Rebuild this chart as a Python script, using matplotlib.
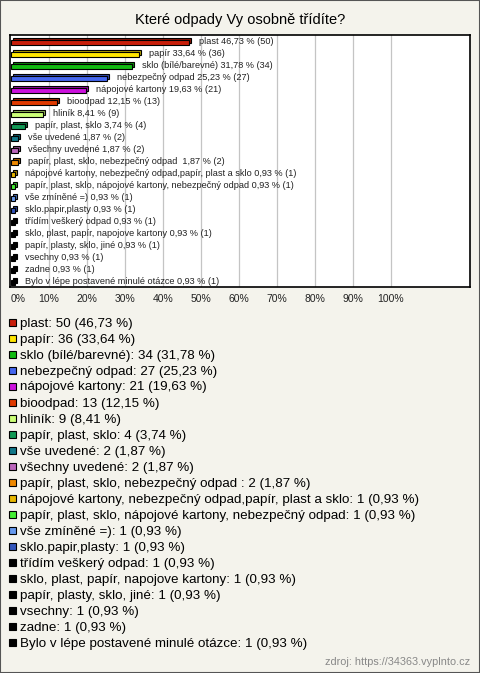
import matplotlib
matplotlib.use("Agg")
import matplotlib.pyplot as plt
import matplotlib.transforms as mtransforms
from matplotlib.patches import Rectangle
import matplotlib.colors as mcolors

plt.rcParams['font.family'] = ['Liberation Sans', 'DejaVu Sans']

title = "Které odpady Vy osobně třídíte?"
categories = [
    "plast", "papír", "sklo (bílé/barevné)", "nebezpečný odpad", "nápojové kartony",
    "bioodpad", "hliník", "papír, plast, sklo", "vše uvedené", "všechny uvedené",
    "papír, plast, sklo, nebezpečný odpad ",
    "nápojové kartony, nebezpečný odpad,papír, plast a sklo",
    "papír, plast, sklo, nápojové kartony, nebezpečný odpad",
    "vše zmíněné =)", "sklo.papir,plasty", "třídím veškerý odpad",
    "sklo, plast, papír, napojove kartony", "papír, plasty, sklo, jiné",
    "vsechny", "zadne", "Bylo v lépe postavené minulé otázce",
]
counts = [50, 36, 34, 27, 21, 13, 9, 4, 2, 2, 2, 1, 1, 1, 1, 1, 1, 1, 1, 1, 1]
percents = [46.73, 33.64, 31.78, 25.23, 19.63, 12.15, 8.41, 3.74, 1.87, 1.87, 1.87,
            0.93, 0.93, 0.93, 0.93, 0.93, 0.93, 0.93, 0.93, 0.93, 0.93]
colors = ["#C81E0A", "#FFE600", "#11BB11", "#4466EE", "#CC11DD", "#E03A00", "#CCFF77",
          "#119955", "#117788", "#BB66BB", "#EE8800", "#E8B800", "#44EE33", "#6699EE",
          "#3355BB", "#000000", "#000000", "#000000", "#000000", "#000000", "#000000"]
xticks = [0, 10, 20, 30, 40, 50, 60, 70, 80, 90, 100]
xticklabels = [f"{t}%" for t in xticks]
source = "zdroj: https://34363.vyplnto.cz"

W, H = 480, 673
BG = "#F4F3EC"
fig = plt.figure(figsize=(W / 100, H / 100), dpi=100, facecolor=BG)

def fx(px):
    return px / W

def fy(py):
    return 1 - py / H

ax = fig.add_axes([fx(10), fy(287), fx(470) - fx(10), fy(35) - fy(287)])
ax.set_facecolor("white")
px_per_pct = 3.8
ax.set_xlim(-1 / px_per_pct, (470 - 11) / px_per_pct)
ax.set_ylim(len(categories) - 0.5, -0.5)
for t in xticks[1:]:
    ax.axvline(t, color="#C4C4C4", lw=0.9, zorder=0)

def darken(c, f=0.7):
    r, g, b = mcolors.to_rgb(c)
    return (r * f, g * f, b * f)

ys = list(range(len(categories)))
ys_front = [y + 0.13 for y in ys]
back_tr = ax.transData + mtransforms.ScaledTranslation(2 / 100, 2 / 100, fig.dpi_scale_trans)
ax.barh(ys_front, percents, height=0.42, color=[darken(c) for c in colors],
        edgecolor="black", linewidth=0.8, transform=back_tr, zorder=2)
ax.barh(ys_front, percents, height=0.42, color=colors, edgecolor="black",
        linewidth=0.8, zorder=3)

for y, cat, p, n in zip(ys, categories, percents, counts):
    ps = f"{p:.2f}".replace(".", ",")
    ax.text(p + 10 / px_per_pct, y, f"{cat} {ps} % ({n})", va="center", ha="left",
            fontsize=6.6, color="#222222", zorder=4)

ax.set_yticks([])
ax.set_xticks(xticks)
ax.set_xticklabels(xticklabels, fontsize=7.5, color="#222222")
ax.tick_params(axis="x", length=0, pad=5)
ax.get_xticklabels()[0].set_ha("left")
for s in ax.spines.values():
    s.set_color("black")
    s.set_linewidth(1.2)

fig.text(0.5, fy(20), title, ha="center", va="center", fontsize=10.5, color="black")

# legend
for i, (cat, p, n, c) in enumerate(zip(categories, percents, counts, colors)):
    yc = 322 + 16 * i
    fig.patches.append(Rectangle((fx(9), fy(yc + 3.5)), fx(7), 7 / H, transform=fig.transFigure,
                                 facecolor=c, edgecolor="black", linewidth=0.8))
    ps = f"{p:.2f}".replace(".", ",")
    label = f"{cat}: {n} ({ps} %)"
    fig.text(fx(20), fy(yc + 1.5), label, ha="left", va="center", fontsize=9.6, color="black")

fig.text(fx(470), fy(662), source, ha="right", va="center", fontsize=7.8, color="#888888")

fig.patches.append(Rectangle((0, 0), 1, 1, transform=fig.transFigure, fill=False,
                             edgecolor="#555555", linewidth=1.5))

fig.savefig("out.png", dpi=100, facecolor=BG)
